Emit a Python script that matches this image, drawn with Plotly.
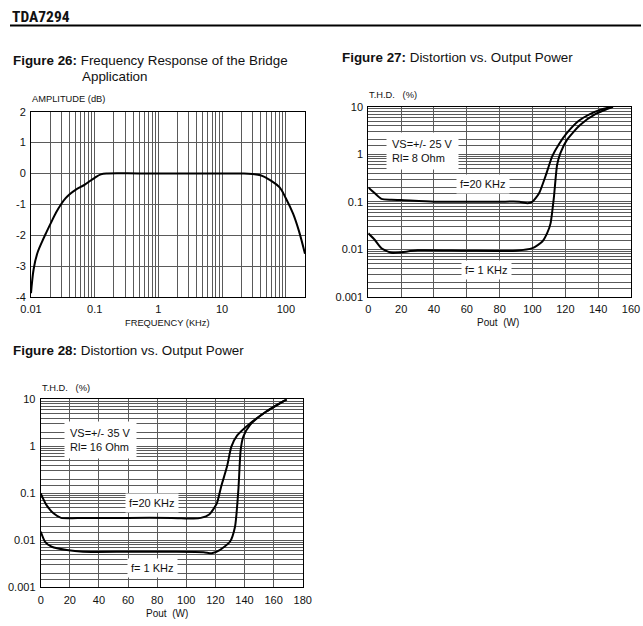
import plotly.graph_objects as go

W, H = 643, 626
FONT = "Liberation Sans, Arial, sans-serif"

# Figure 26 - frequency response of the bridge application
freq_khz = [0.01, 0.011, 0.0125, 0.015, 0.0175, 0.02, 0.025, 0.03, 0.035, 0.04, 0.05, 0.07,
            0.1, 0.125, 0.16, 0.5, 2, 10, 22, 30, 40, 60, 80, 100, 130, 160, 200]
amp_db = [-3.88, -3.1, -2.6, -2.2, -1.9, -1.65, -1.25, -0.98, -0.8, -0.68, -0.53, -0.36,
          -0.14, -0.03, 0.0, 0.0, 0.0, 0.0, 0.0, -0.02, -0.06, -0.25, -0.45, -0.8, -1.3, -1.85, -2.6]

# Figure 27 - THD vs Pout, VS=+/-25 V, Rl=8 Ohm
p27_20k = [0, 4, 8, 14, 20, 40, 60, 80, 92, 97, 100, 104, 108, 112, 116, 121, 128, 135, 142, 149]
thd27_20k = [0.2, 0.15, 0.115, 0.11, 0.108, 0.1, 0.1, 0.1, 0.1, 0.093, 0.1, 0.15, 0.35, 0.9,
             1.6, 2.8, 5.0, 7.0, 8.8, 10]
p27_1k = [0, 4, 8, 14, 19, 30, 60, 90, 100, 106, 109, 111, 113, 115, 117, 121, 129, 139, 149]
thd27_1k = [0.0216, 0.0156, 0.0105, 0.0084, 0.0085, 0.0095, 0.0093, 0.0093, 0.0105, 0.0145,
            0.022, 0.035, 0.12, 0.6, 1.05, 2.0, 4.1, 7.2, 10]

# Figure 28 - THD vs Pout, VS=+/-35 V, Rl=16 Ohm
p28_20k = [0, 4, 9, 14, 30, 60, 90, 105, 110, 116, 121, 124, 128, 131, 135, 144, 155, 169]
thd28_20k = [0.1, 0.056, 0.037, 0.030, 0.030, 0.030, 0.030, 0.029, 0.030, 0.036, 0.061, 0.14,
             0.37, 0.98, 1.7, 3.1, 5.5, 10]
p28_1k = [0, 3, 7.6, 18, 29, 60, 90, 112, 117.5, 123, 130, 133.5, 135.8, 137.4, 139.2, 144, 155, 169]
thd28_1k = [0.0153, 0.0093, 0.0073, 0.0062, 0.0057, 0.0057, 0.0057, 0.0056, 0.0053, 0.0062,
            0.0093, 0.0195, 0.118, 0.84, 1.6, 2.9, 5.5, 10]

freq_decades = [0.01, 0.1, 1, 10, 100]
freq_labels = ["0.01", "0.1", "1", "10", "100"]
amp_ticks = [-4, -3, -2, -1, 0, 1, 2]
amp_labels = ["-4", "-3", "-2", "-1", "0", "1", "2"]
thd_decades = [0.001, 0.01, 0.1, 1, 10]
thd_labels = ["0.001", "0.01", "0.1", "1", "10"]


def px(x):
    return x / W


def py(y):
    return 1 - y / H


# grid positions: every digit of each decade (log axes)
freq_grid = [d * k for d in freq_decades[:-1] for k in range(1, 10)] + [100, 200]
freq_text = [freq_labels[freq_decades.index(v)] if v in freq_decades else "" for v in freq_grid]
thd_grid = [d * k for d in thd_decades[:-1] for k in (1, 1.5, 2, 3, 4, 5, 6, 7, 8, 9)] + [10]
thd_text = [thd_labels[thd_decades.index(v)] if v in thd_decades else "" for v in thd_grid]

GRID = "#5a5a5a"
tick_font = dict(family=FONT, size=11, color="#111")

fig = go.Figure()
line = dict(color="black", width=2, shape="spline", smoothing=0.6)
fig.add_trace(go.Scatter(x=freq_khz, y=amp_db, mode="lines", xaxis="x", yaxis="y",
                         line=dict(line, smoothing=1.0)))
fig.add_trace(go.Scatter(x=p27_20k, y=thd27_20k, mode="lines", line=line, xaxis="x2", yaxis="y2"))
fig.add_trace(go.Scatter(x=p27_1k, y=thd27_1k, mode="lines", line=line, xaxis="x2", yaxis="y2"))
fig.add_trace(go.Scatter(x=p28_20k, y=thd28_20k, mode="lines", line=line, xaxis="x3", yaxis="y3"))
fig.add_trace(go.Scatter(x=p28_1k, y=thd28_1k, mode="lines", line=line, xaxis="x3", yaxis="y3"))

common = dict(showline=True, mirror=True, linecolor="black", linewidth=1, showgrid=True,
              gridcolor=GRID, gridwidth=1, zeroline=False, ticks="", tickfont=tick_font,
              ticklabelstandoff=2, automargin=False)

fig.update_layout(
    width=W, height=H, margin=dict(l=0, r=0, t=0, b=0, autoexpand=False),
    paper_bgcolor="white", plot_bgcolor="white", showlegend=False,
    font=dict(family=FONT, color="#111"),
    xaxis=dict(common, type="log", domain=[px(31), px(305)], range=[-2, 2.301],
               tickvals=freq_grid, ticktext=freq_text, anchor="y"),
    yaxis=dict(common, domain=[py(297), py(111.7)], range=[-4, 2],
               tickvals=amp_ticks, ticktext=amp_labels, anchor="x"),
    xaxis2=dict(common, domain=[px(368.3), px(631)], range=[0, 160], dtick=20, anchor="y2"),
    yaxis2=dict(common, type="log", domain=[py(296.7), py(106.7)], range=[-3, 1],
                tickvals=thd_grid, ticktext=thd_text, anchor="x2"),
    xaxis3=dict(common, domain=[px(40.7), px(302.7)], range=[0, 180], dtick=20, anchor="y3"),
    yaxis3=dict(common, type="log", domain=[py(587.3), py(399.3)], range=[-3, 1],
                tickvals=thd_grid, ticktext=thd_text, anchor="x3"),
)

ann = []


def text(x, y, s, size=13, xanchor="left", family=FONT):
    ann.append(dict(x=px(x), y=py(y), xref="paper", yref="paper", text=s, showarrow=False,
                    xanchor=xanchor, yanchor="middle", font=dict(family=family, size=size, color="#111")))


text(10, 17, "<b>TDA7294</b>", size=15.5, family="Liberation Sans Narrow, Roboto Condensed, " + FONT)
text(11, 60, "<b>Figure 26:</b> Frequency Response of the Bridge", size=13.4)
text(80, 76, "Application", size=13.4)
text(340, 57, "<b>Figure 27:</b> Distortion vs. Output Power", size=13.4)
text(11, 350, "<b>Figure 28:</b> Distortion vs. Output Power", size=13.4)

text(30, 99, "AMPLITUDE (dB)", size=9.3)
text(167, 323, "FREQUENCY (KHz)", size=9.3, xanchor="center")
text(367, 95, "T.H.D.&nbsp;&nbsp;&nbsp;(%)", size=9.3)
text(498, 322, "Pout&nbsp;&nbsp;(W)", size=10, xanchor="center")
text(40, 388, "T.H.D.&nbsp;&nbsp;&nbsp;(%)", size=9.3)
text(167, 613, "Pout&nbsp;&nbsp;(W)", size=10, xanchor="center")


def label(x, y, s, xr, yr, pad=3):
    ann.append(dict(x=x, y=y, xref=xr, yref=yr, text=s, showarrow=False, align="left",
                    bgcolor="white", borderpad=pad, font=dict(family=FONT, size=11, color="#111")))


label(33, 0.067, "VS=+/- 25 V<br>Rl= 8 Ohm", "x2", "y2", pad=5)
label(70, -0.627, "f=20 KHz", "x2", "y2")
label(72, -2.438, "f= 1 KHz", "x2", "y2")
label(41.4, 0.134, "VS=+/- 35 V<br>Rl= 16 Ohm", "x3", "y3", pad=5)
label(76.5, -1.206, "f=20 KHz", "x3", "y3")
label(76.5, -2.589, "f= 1 KHz", "x3", "y3")

fig.update_layout(
    annotations=ann,
    shapes=[dict(type="line", xref="paper", yref="paper", x0=px(10), x1=px(641),
                 y0=py(25.5), y1=py(25.5), line=dict(color="black", width=1.8))],
)

# page has a default 8px body margin; drop it so the 643x626 figure fills the window
fig.write_html("out.html", config={"displayModeBar": False},
               post_script="document.body.style.margin='0';")
